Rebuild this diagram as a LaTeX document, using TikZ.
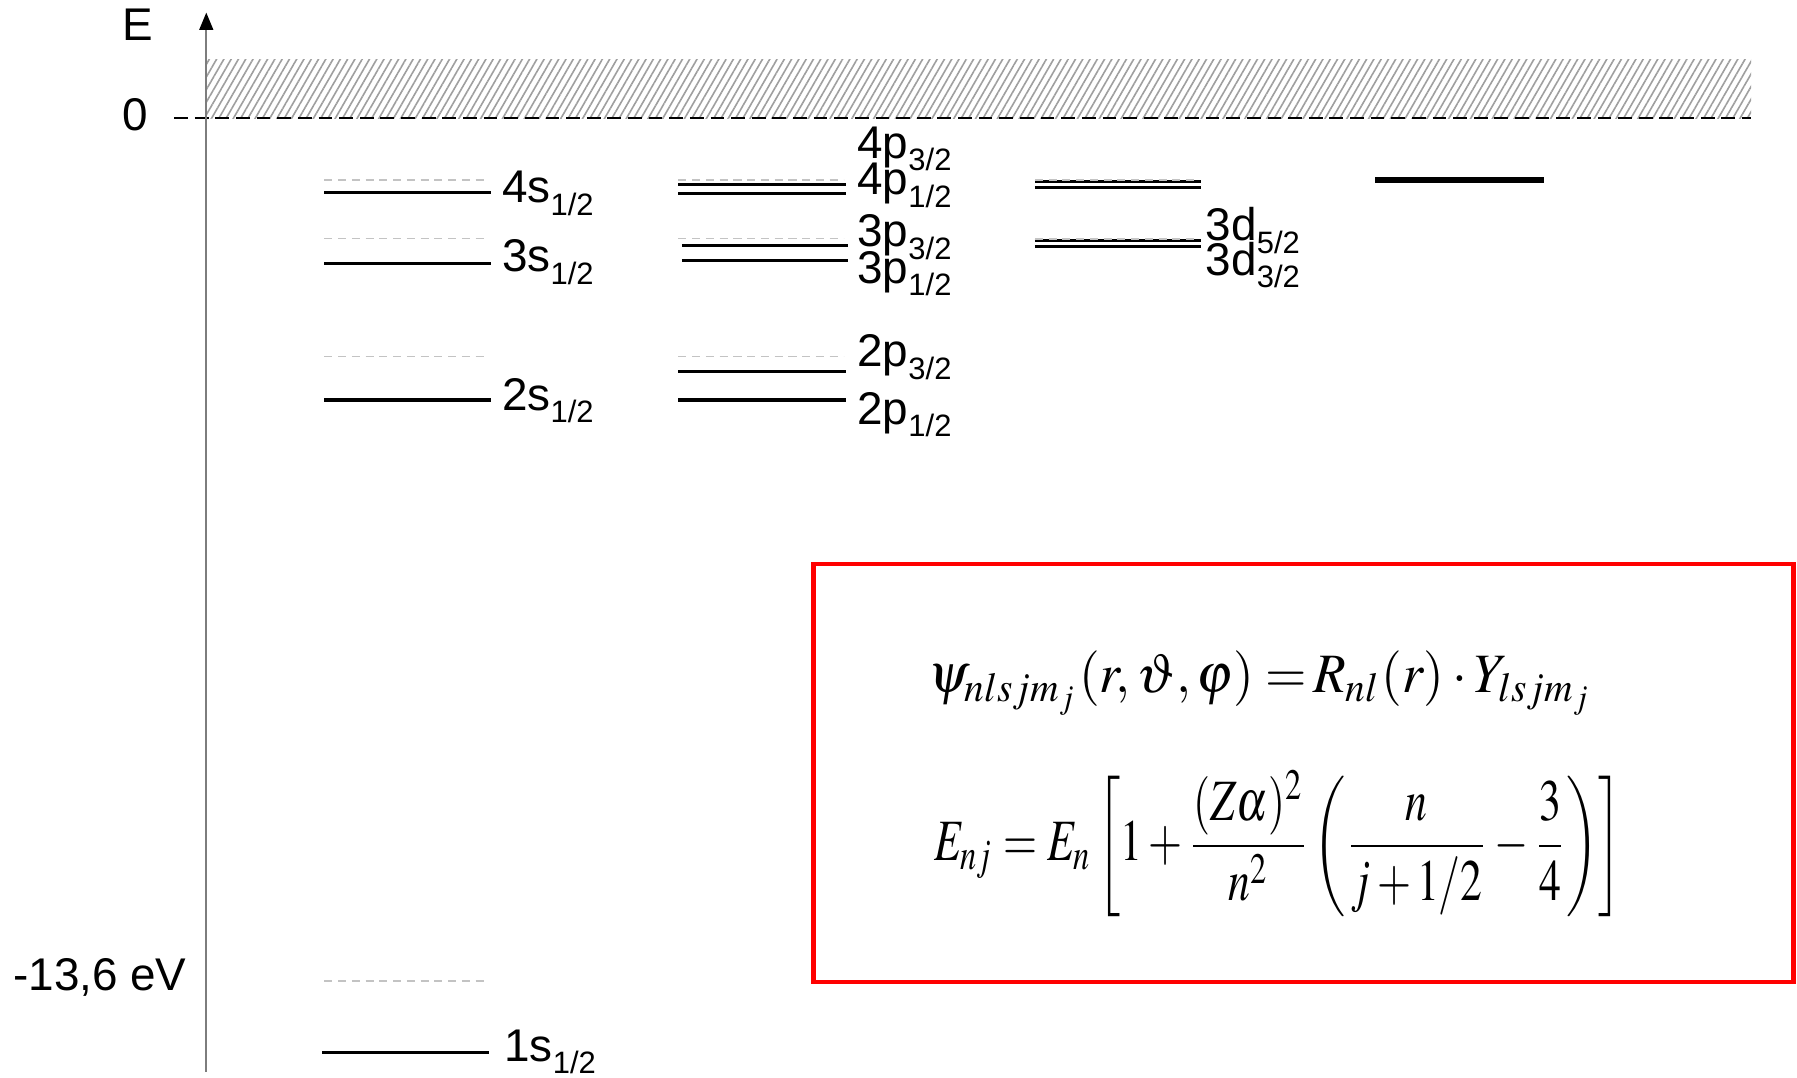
\documentclass[tikz,border=0pt]{standalone}
\usepackage{mathptmx}
\usepackage[no-math]{fontspec}
\setmainfont{Liberation Sans}
\usepackage{graphicx}
\usetikzlibrary{patterns.meta,arrows.meta}
\definecolor{axisgray}{RGB}{125,125,125}
\definecolor{ghostgray}{RGB}{195,195,195}
\newcommand{\sbs}[1]{\raisebox{-11pt}{\fontsize{27}{27}\selectfont #1}}
\begin{document}
\begin{tikzpicture}[x=1pt,y=-1pt,
  lbl/.style={font=\fontsize{40}{41}\selectfont, inner sep=0pt, anchor=base west},
  axlbl/.style={font=\fontsize{40}{41}\selectfont, inner sep=0pt},
  lev/.style={line width=2.7pt, black},
  ghost/.style={line width=1.4pt, ghostgray, dash pattern=on 7pt off 5pt},
]
\useasboundingbox (0,0) rectangle (1568,940);
% continuum band
\fill[pattern={Lines[angle=60,distance=5.5pt,line width=1.4pt]}, pattern color=gray!75] (180,52) rectangle (1528,103);
% zero line
\coordinate (z0) at (152,103);
\coordinate (z1) at (1528,103);
\draw[dash pattern=on 12pt off 6pt, line width=1.5pt] (z0) -- (z1);
% axis
\coordinate (axb) at (180,935);
\coordinate (axt) at (180,11);
\draw[axisgray, line width=1.6pt, -{Triangle[width=12pt,length=15pt,color=black]}] (axb) -- (axt);
\node[axlbl, anchor=base] (E) at (120,35) {E};
\node[axlbl, anchor=base] (zero) at (118,114) {0};
\node[axlbl, anchor=base east] (ryd) at (163,864) {-13,6 eV};
% s column
\foreach \y in {157,208,311,856} \draw[ghost] (283,\y) -- (422,\y);
\foreach \y in {168,230,349} \draw[lev] (283,\y) -- (428,\y);
\draw[lev] (281,918) -- (427,918);
% p column
\foreach \y in {157,208,311} \draw[ghost] (592,\y) -- (736,\y);
\foreach \y in {161,169} \draw[lev] (592,\y) -- (738,\y);
\foreach \y in {214.5,227.5} \draw[lev] (595,\y) -- (740,\y);
\foreach \y in {324,349} \draw[lev] (592,\y) -- (738,\y);
% d column
\foreach \y in {158.5,163.5,209.5,215} \draw[lev] (903,\y) -- (1048,\y);
\foreach \y in {157,208.5} \draw[ghost] (903,\y) -- (1046,\y);
% f column
\draw[line width=5pt] (1200,157) -- (1347,157);
% labels
\node[lbl] (l4s) at (438,177) {4s\sbs{1/2}};
\node[lbl] (l3s) at (438,237) {3s\sbs{1/2}};
\node[lbl] (l2s) at (438,358) {2s\sbs{1/2}};
\node[lbl] (l1s) at (440,926) {1s\sbs{1/2}};
\node[lbl] (l4p3) at (748,138) {4p\sbs{3/2}};
\node[lbl] (l4p1) at (748,170) {4p\sbs{1/2}};
\node[lbl] (l3p3) at (748,215) {3p\sbs{3/2}};
\node[lbl] (l3p1) at (748,247) {3p\sbs{1/2}};
\node[lbl] (l2p3) at (748,320) {2p\sbs{3/2}};
\node[lbl] (l2p1) at (748,370) {2p\sbs{1/2}};
\node[lbl] (l3d5) at (1052,210) {3d\sbs{5/2}};
\node[lbl] (l3d3) at (1052,240) {3d\sbs{3/2}};
% formula box
\draw[red, line width=4pt] (710,492) rectangle (1565,857);
\node[inner sep=0pt] (psi) at (1100,596) {\resizebox*{580pt}{57pt}{$\psi_{nlsjm_j}(r,\vartheta,\varphi)\mathrel{=}\!R_{nl}(r)\cdot Y_{lsjm_j}$}};
\node[inner sep=0pt] (Enj) at (1115,736) {\resizebox*{600pt}{127pt}{$\displaystyle E_{nj} = E_n\left[1+\frac{(Z\alpha)^2}{n^2}\left(\frac{n}{j+1/2}-\frac{3}{4}\right)\right]$}};
\end{tikzpicture}
\end{document}
